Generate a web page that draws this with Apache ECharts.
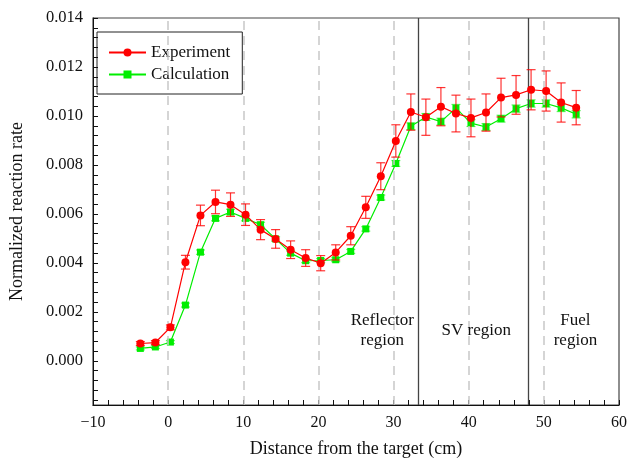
<!DOCTYPE html>
<html>
<head>
<meta charset="utf-8">
<script src="https://cdn.jsdelivr.net/npm/echarts@6/dist/echarts.min.js"></script>
<style>html,body{margin:0;padding:0;background:#fff}#c{width:630px;height:468px}</style>
</head>
<body>
<div id="c"></div>
<script>
// Distance from the target (cm)
const distance = [-3.7,-1.7,0.3,2.3,4.3,6.3,8.3,10.3,12.3,14.3,16.3,18.3,20.3,22.3,24.3,26.3,28.3,30.3,32.3,34.3,36.3,38.3,40.3,42.3,44.3,46.3,48.3,50.3,52.3,54.3];
const experiment = [0.00071,0.00075,0.00137,0.00403,0.00594,0.00649,0.00638,0.00597,0.00536,0.00498,0.00454,0.00420,0.00399,0.00443,0.00511,0.00627,0.00754,0.00898,0.01016,0.00995,0.01038,0.01010,0.00992,0.01014,0.01075,0.01086,0.01107,0.01102,0.01055,0.01034];
const experimentErr = [0.00008,0.00008,0.00010,0.00028,0.00042,0.00048,0.00048,0.00044,0.00041,0.00038,0.00036,0.00034,0.00031,0.00031,0.00037,0.00045,0.00055,0.00066,0.00074,0.00074,0.00078,0.00075,0.00077,0.00076,0.00079,0.00079,0.00082,0.00082,0.00080,0.00070];
const calculation = [0.00051,0.00057,0.00077,0.00228,0.00444,0.00582,0.00608,0.00582,0.00556,0.00498,0.00440,0.00409,0.00410,0.00413,0.00447,0.00539,0.00667,0.00806,0.00958,0.00996,0.00977,0.01032,0.00971,0.00955,0.00989,0.01030,0.01051,0.01051,0.01033,0.01007];
const calculationErr = [0.00006,0.00006,0.00006,0.00008,0.00009,0.00010,0.00011,0.00010,0.00010,0.00009,0.00009,0.00008,0.00008,0.00008,0.00008,0.00009,0.00010,0.00012,0.00014,0.00014,0.00014,0.00015,0.00014,0.00014,0.00014,0.00015,0.00015,0.00015,0.00015,0.00015];
const yTickLabels = [0,0.002,0.004,0.006,0.008,0.010,0.012,0.014];
const yMinorTicks = [-0.0016,-0.0012,-0.0008,-0.0004,0,0.0004,0.0008,0.0012,0.0016,0.002,0.0024,0.0028,0.0032,0.0036,0.004,0.0044,0.0048,0.0052,0.0056,0.006,0.0064,0.0068,0.0072,0.0076,0.008,0.0084,0.0088,0.0092,0.0096,0.01,0.0104,0.0108,0.0112,0.0116,0.012,0.0124,0.0128,0.0132,0.0136,0.014];
const dashedLines = [0,10,20,30,40,50];
const regionBounds = [33.3,47.9];
const regionLabels = [
  {text:'Reflector\nregion', x:28.5},
  {text:'SV region', x:41},
  {text:'Fuel\nregion', x:54.2}
];
const regionLabelY = 0.00124;

const FONT = 'Liberation Serif';
const RED = '#ff0000';
const GREEN = '#00ee00';

function pairs(xs, ys){ return xs.map((x,i)=>[x, ys[i]]); }
function errData(xs, ys, es){ return xs.map((x,i)=>[x, ys[i]-es[i], ys[i]+es[i]]); }

function errRender(color, opacity){
  return function(params, api){
    const x = api.value(0), lo = api.value(1), hi = api.value(2);
    const pLo = api.coord([x, lo]);
    const pHi = api.coord([x, hi]);
    const hw = 4.5;
    const style = {stroke: color, lineWidth: 1.2, opacity: opacity};
    return {type:'group', children:[
      {type:'line', shape:{x1:pLo[0], y1:pLo[1], x2:pHi[0], y2:pHi[1]}, style: style},
      {type:'line', shape:{x1:pLo[0]-hw, y1:pLo[1], x2:pLo[0]+hw, y2:pLo[1]}, style: style},
      {type:'line', shape:{x1:pHi[0]-hw, y1:pHi[1], x2:pHi[0]+hw, y2:pHi[1]}, style: style}
    ]};
  };
}

const chart = echarts.init(document.getElementById('c'), null, {renderer:'canvas'});
chart.setOption({
  animation: false,
  backgroundColor: '#fff',
  grid: {left: 86, right: 11, top: 18, bottom: 63, show: true, borderColor: '#444', borderWidth: 1.2, backgroundColor: 'transparent'},
  legend: {
    left: 97, top: 32,
    orient: 'vertical',
    data: ['Experiment','Calculation'],
    borderColor: '#222', borderWidth: 1,
    padding: [12, 12, 11, 11],
    itemWidth: 37, itemHeight: 10, itemGap: 5,
    textStyle: {fontFamily: FONT, fontSize: 17, color: '#111'}
  },
  xAxis: {
    type: 'value', min: -10, max: 60, interval: 10,
    name: 'Distance from the target (cm)', nameLocation: 'middle', nameGap: 35,
    nameTextStyle: {fontFamily: FONT, fontSize: 18, color: '#111'},
    axisLine: {show: true, onZero: false, lineStyle: {color: '#111', width: 1}},
    axisTick: {show: true, inside: true, length: 5, lineStyle: {color: '#111'}},
    minorTick: {show: true, splitNumber: 5, length: 5, lineStyle: {color: '#111'}},
    splitLine: {show: false},
    axisLabel: {fontFamily: FONT, fontSize: 16, color: '#111', margin: 10,
      formatter: v => v < 0 ? '\u2212' + Math.abs(v) : String(v)}
  },
  yAxis: {
    type: 'value', min: -0.0018, max: 0.014,
    name: 'Normalized reaction rate', nameLocation: 'middle', nameGap: 67,
    nameTextStyle: {fontFamily: FONT, fontSize: 18, color: '#111'},
    axisLine: {show: true, onZero: false, lineStyle: {color: '#111', width: 1}},
    axisTick: {show: true, inside: true, length: 5, customValues: yMinorTicks, lineStyle: {color: '#111'}},
    splitLine: {show: false},
    axisLabel: {fontFamily: FONT, fontSize: 16.5, color: '#111', margin: 10, customValues: yTickLabels,
      formatter: v => v.toFixed(3)}
  },
  series: [
    {
      name: 'guides', type: 'line', data: [], silent: true, z: 1,
      markLine: {
        silent: true, symbol: 'none', animation: false,
        label: {show: false},
        data: dashedLines.map(x => ({xAxis: x, lineStyle: {color: '#c8c8c8', width: 1.5, type: [9, 6]}}))
          .concat(regionBounds.map(x => ({xAxis: x, lineStyle: {color: '#444', width: 1.3, type: 'solid'}})))
      },
      markPoint: {
        silent: true, symbol: 'circle', symbolSize: 0,
        label: {show: true, position: 'inside', fontFamily: FONT, fontSize: 17, lineHeight: 20, color: '#111'},
        data: regionLabels.map(r => ({coord: [r.x, regionLabelY], value: r.text, label: {formatter: r.text}}))
      }
    },
    {
      name: 'calcErr', type: 'custom', data: errData(distance, calculation, calculationErr),
      renderItem: errRender(GREEN, 0.6), z: 3, silent: true, clip: true
    },
    {
      name: 'Calculation', type: 'line', data: pairs(distance, calculation),
      symbol: 'rect', symbolSize: 7, color: GREEN,
      lineStyle: {color: GREEN, width: 1.2}, itemStyle: {color: GREEN}, z: 4
    },
    {
      name: 'expErr', type: 'custom', data: errData(distance, experiment, experimentErr),
      renderItem: errRender(RED, 0.8), z: 5, silent: true, clip: true
    },
    {
      name: 'Experiment', type: 'line', data: pairs(distance, experiment),
      symbol: 'circle', symbolSize: 8, color: RED,
      lineStyle: {color: RED, width: 1.2}, itemStyle: {color: RED}, z: 6
    }
  ]
});
</script>
</body>
</html>
